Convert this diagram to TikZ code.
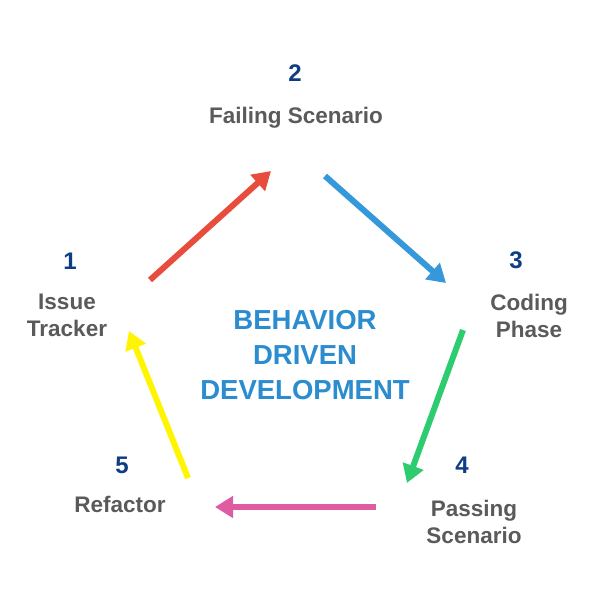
\documentclass[tikz,border=0pt]{standalone}
\usepackage{fontspec}
\setmainfont{Liberation Sans}
\usetikzlibrary{arrows.meta}
\definecolor{numblue}{HTML}{0E3D84}
\definecolor{labgray}{HTML}{5A5A5A}
\definecolor{midblue}{HTML}{2B8CD0}
\definecolor{cred}{HTML}{E84C3D}
\definecolor{cblue}{HTML}{3498DB}
\definecolor{cgreen}{HTML}{2ECC71}
\definecolor{cpink}{HTML}{DF5BA2}
\definecolor{cyellow}{HTML}{FFF500}
\tikzset{
  num/.style={font=\fontsize{24}{26}\selectfont\bfseries, text=numblue, inner sep=0pt},
  lab/.style={font=\fontsize{22.5}{27}\selectfont\bfseries, text=labgray, align=center, inner sep=0pt},
  mid/.style={font=\fontsize{27.5}{35}\selectfont\bfseries, text=midblue, align=center, inner sep=0pt},
  conn/.style={line width=6pt, -{Triangle[length=18pt,width=21pt]}, shorten >=0pt}
}
\begin{document}
\begin{tikzpicture}[x=1pt,y=-1pt]
\useasboundingbox (0,0) rectangle (593,593);
\fill[white] (0,0) rectangle (593,593);
% numbers and labels
\node[num] (n2) at (295,73) {2};
\node[lab] (l2) at (296,118) {Failing Scenario};
\node[num] (n1) at (70,261) {1};
\node[lab] (l1) at (67,315.5) {Issue\\Tracker};
\node[num] (n3) at (516,260) {3};
\node[lab] (l3) at (529,315.5) {Coding\\Phase};
\node[num] (n4) at (462,465) {4};
\node[lab] (l4) at (474,521.5) {Passing\\Scenario};
\node[num] (n5) at (122,465) {5};
\node[lab] (l5) at (120,504) {Refactor};
\node[mid] (center) at (305,355) {BEHAVIOR\\DRIVEN\\DEVELOPMENT};
% arrow endpoints
\coordinate (r1) at (150,280); \coordinate (r2) at (271,171);
\coordinate (b1) at (325,176); \coordinate (b2) at (446,283);
\coordinate (g1) at (463,330); \coordinate (g2) at (407,483);
\coordinate (p1) at (376,507); \coordinate (p2) at (215,507);
\coordinate (y1) at (188,478); \coordinate (y2) at (129,331);
\draw[conn, cred] (r1) -- (r2);
\draw[conn, cblue] (b1) -- (b2);
\draw[conn, cgreen] (g1) -- (g2);
\draw[conn, cpink] (p1) -- (p2);
\draw[conn, cyellow] (y1) -- (y2);
\end{tikzpicture}
\end{document}
